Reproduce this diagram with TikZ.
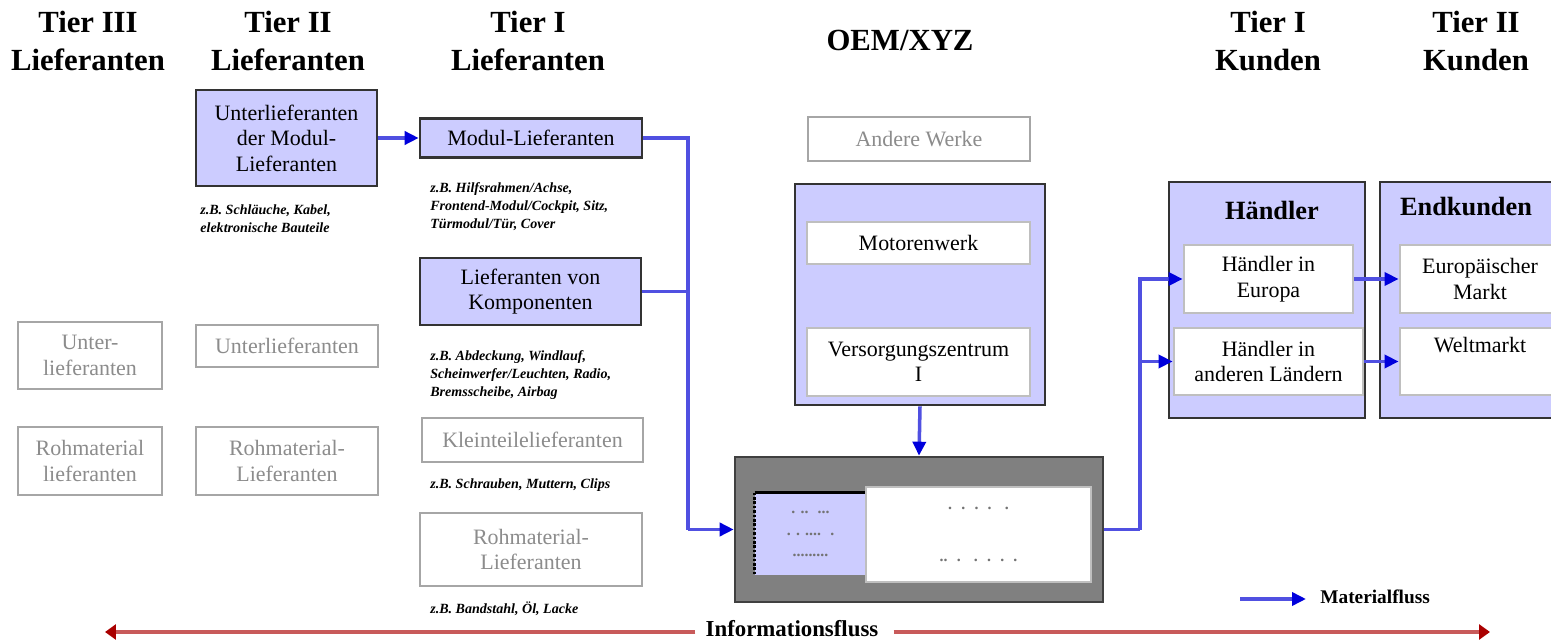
\documentclass[tikz,border=0pt]{standalone}
\usepackage{fontspec}
\setmainfont{Liberation Serif}
\usetikzlibrary{arrows.meta}
\definecolor{lila}{RGB}{204,204,255}
\definecolor{flowblue}{RGB}{80,80,225}
\definecolor{tipblue}{RGB}{0,0,220}
\definecolor{inforot}{RGB}{200,90,90}
\definecolor{tiprot}{RGB}{170,0,0}

\begin{document}
\begin{tikzpicture}[x=0.02cm,y=-0.02cm,
  head/.style={font=\fontsize{17.5}{21.5}\selectfont\bfseries,align=center},
  box/.style={align=center,font=\fontsize{12.5}{14.5}\selectfont,inner sep=0pt},
  lilabox/.style={box,fill=lila,draw=black!80,line width=1.5pt},
  greybox/.style={box,fill=white,draw=black!35,line width=1.6pt,text=black!45},
  whitebox/.style={box,fill=white,draw=black!25,line width=1.6pt},
  title/.style={font=\fontsize{15}{18}\selectfont\bfseries},
  note/.style={anchor=north west,align=left,inner sep=0pt,font=\fontsize{8}{10.2}\selectfont\bfseries\itshape},
  dots/.style={align=center,inner sep=0pt,text=black!55,font=\fontsize{9}{12}\selectfont\bfseries},
  flow/.style={draw=flowblue,line width=2pt,-{Triangle[length=0.28cm,width=0.26cm,color=tipblue]}},
  flowline/.style={draw=flowblue,line width=2pt},
  infoflow/.style={draw=inforot,line width=2.6pt,-{Triangle[length=0.22cm,width=0.3cm,color=tiprot]}}]
  \useasboundingbox (0,0) rectangle (1551,641);

  % column heads
  \node[head] (h3) at (88,41) {Tier III\\Lieferanten};
  \node[head] (h2) at (288,41) {Tier II\\Lieferanten};
  \node[head] (h1) at (528,41) {Tier I\\Lieferanten};
  \node[head] (hoem) at (900,40) {OEM/XYZ};
  \node[head] (k1) at (1268,41) {Tier I\\Kunden};
  \node[head] (k2) at (1476,41) {Tier II\\Kunden};

  % Tier III
  \node[greybox,minimum width=2.88cm,minimum height=1.34cm] (unter3) at (90,355.5) {Unter-\\lieferanten};
  \node[greybox,minimum width=2.88cm,minimum height=1.36cm] (roh3) at (90,461) {Rohmaterial\\lieferanten};

  % Tier II
  \node[lilabox,minimum width=3.62cm,minimum height=1.92cm] (u2mod) at (286.5,138) {Unterlieferanten\\der Modul-\\Lieferanten};
  \node[note] (n1) at (200,204) {z.B. Schläuche, Kabel,\\elektronische Bauteile};
  \node[greybox,minimum width=3.64cm,minimum height=0.84cm] (unter2) at (287,346) {Unterlieferanten};
  \node[greybox,minimum width=3.64cm,minimum height=1.36cm] (roh2) at (287,461) {Rohmaterial-\\Lieferanten};

  % Tier I
  \node[lilabox,minimum width=4.44cm,minimum height=0.78cm] (modul) at (531,138) {Modul-Lieferanten};
  \node[note] (n2) at (430,182) {z.B. Hilfsrahmen/Achse,\\Frontend-Modul/Cockpit, Sitz,\\Türmodul/Tür, Cover};
  \node[lilabox,minimum width=4.42cm,minimum height=1.34cm] (komp) at (530.5,291.5) {Lieferanten von\\Komponenten};
  \node[note] (n3) at (430,350) {z.B. Abdeckung, Windlauf,\\Scheinwerfer/Leuchten, Radio,\\Bremsscheibe, Airbag};
  \node[greybox,minimum width=4.42cm,minimum height=0.88cm] (klein) at (532.5,440) {Kleinteilelieferanten};
  \node[note] (n4) at (430,478) {z.B. Schrauben, Muttern, Clips};
  \node[greybox,minimum width=4.44cm,minimum height=1.46cm] (roh1) at (531,549.5) {Rohmaterial-\\Lieferanten};
  \node[note] (n5) at (430,601) {z.B. Bandstahl, Öl, Lacke};

  % OEM
  \node[greybox,minimum width=4.44cm,minimum height=0.88cm] (werke) at (919,139) {Andere Werke};
  \node[lilabox,minimum width=5cm,minimum height=4.42cm] (oem) at (920,294.5) {};
  \node[whitebox,minimum width=4.46cm,minimum height=0.84cm] (motor) at (918.5,243) {Motorenwerk};
  \node[whitebox,minimum width=4.46cm,minimum height=1.36cm] (versorg) at (918.5,362) {Versorgungszentrum\\I};

  \node[box,fill=black!50,draw=black!75,line width=1.5pt,minimum width=7.36cm,minimum height=2.9cm] (lager) at (919,529.5) {};
  \node[box,fill=lila,minimum width=2.22cm,minimum height=1.64cm] (lagerA) at (810.5,534) {};
  \draw[line width=1.8pt] (lagerA.north west) -- (lagerA.north east);
  \draw[densely dotted,line width=1.5pt] (lagerA.north west) -- (lagerA.south west);
  \draw[densely dotted,line width=1.5pt] (lagerA.north east) -- (lagerA.south east);
  \node[dots] (dotsA) at (lagerA) {. .. \ ...\\. . .... \ .\\.........};
  \node[box,fill=white,draw=black!25,line width=1.5pt,minimum width=4.5cm,minimum height=1.9cm] (lagerB) at (978.5,534.5) {};
  \node[dots,font=\fontsize{9}{30}\selectfont\bfseries] (dotsB) at (lagerB) {. \ . \ . \ . \ \ .\\.. \ . \ \ . \ . \ . \ .};

  % Tier I Kunden
  \node[lilabox,minimum width=3.92cm,minimum height=4.72cm] (haendler) at (1267,300) {};
  \node[title] (th) at (1272,210) {Händler};
  \node[whitebox,minimum width=3.38cm,minimum height=1.36cm] (europa) at (1268.5,279) {Händler in\\Europa};
  \node[whitebox,minimum width=3.78cm,minimum height=1.34cm] (andere) at (1268.5,361.5) {Händler in\\anderen Ländern};

  % Tier II Kunden
  \node[lilabox,minimum width=3.52cm,minimum height=4.72cm] (endkunden) at (1468,300) {};
  \node[title] (te) at (1466,207) {Endkunden};
  \node[whitebox,minimum width=3.2cm,minimum height=1.36cm] (emarkt) at (1480,279) {Europäischer\\Markt};
  \node[whitebox,minimum width=3.2cm,minimum height=1.34cm] (welt) at (1480,361.5) {Weltmarkt\\\strut};

  % material flow
  \coordinate (jA) at (688,529.5);
  \coordinate (jB) at (1140,529.5);
  \draw[flow] (u2mod.east) -- (modul.west);
  \draw[flowline] (modul.east) -| (jA);
  \draw[flowline] (komp.east) -| (jA);
  \draw[flow] (jA) -- (lager.west);
  \draw[flow] (oem.south) -- (lager.north);
  \draw[flowline] (lager.east) -- (jB);
  \draw[flow] (jB) |- (europa.west);
  \draw[flow] (jB) |- (andere.west);
  \draw[flow] (europa.east) -- (emarkt.west);
  \draw[flow] (andere.east) -- (welt.west);

  % legend
  \coordinate (legA) at (1240,599);
  \node[anchor=west,inner sep=0pt,font=\fontsize{11}{13}\selectfont\bfseries] (leg) at (1320,597) {Materialfluss};
  \coordinate (legB) at (1306,599);
  \draw[flow] (legA) -- (legB);

  % information flow
  \node[inner sep=0pt,font=\fontsize{13}{15}\selectfont\bfseries] (info) at (792,629) {Informationsfluss};
  \coordinate (infoL) at (105,632);
  \coordinate (infoR) at (1490,632);
  \draw[infoflow] ([xshift=-0.2cm]info.west |- infoL) -- (infoL);
  \draw[infoflow] ([xshift=0.3cm]info.east |- infoR) -- (infoR);
\end{tikzpicture}
\end{document}
